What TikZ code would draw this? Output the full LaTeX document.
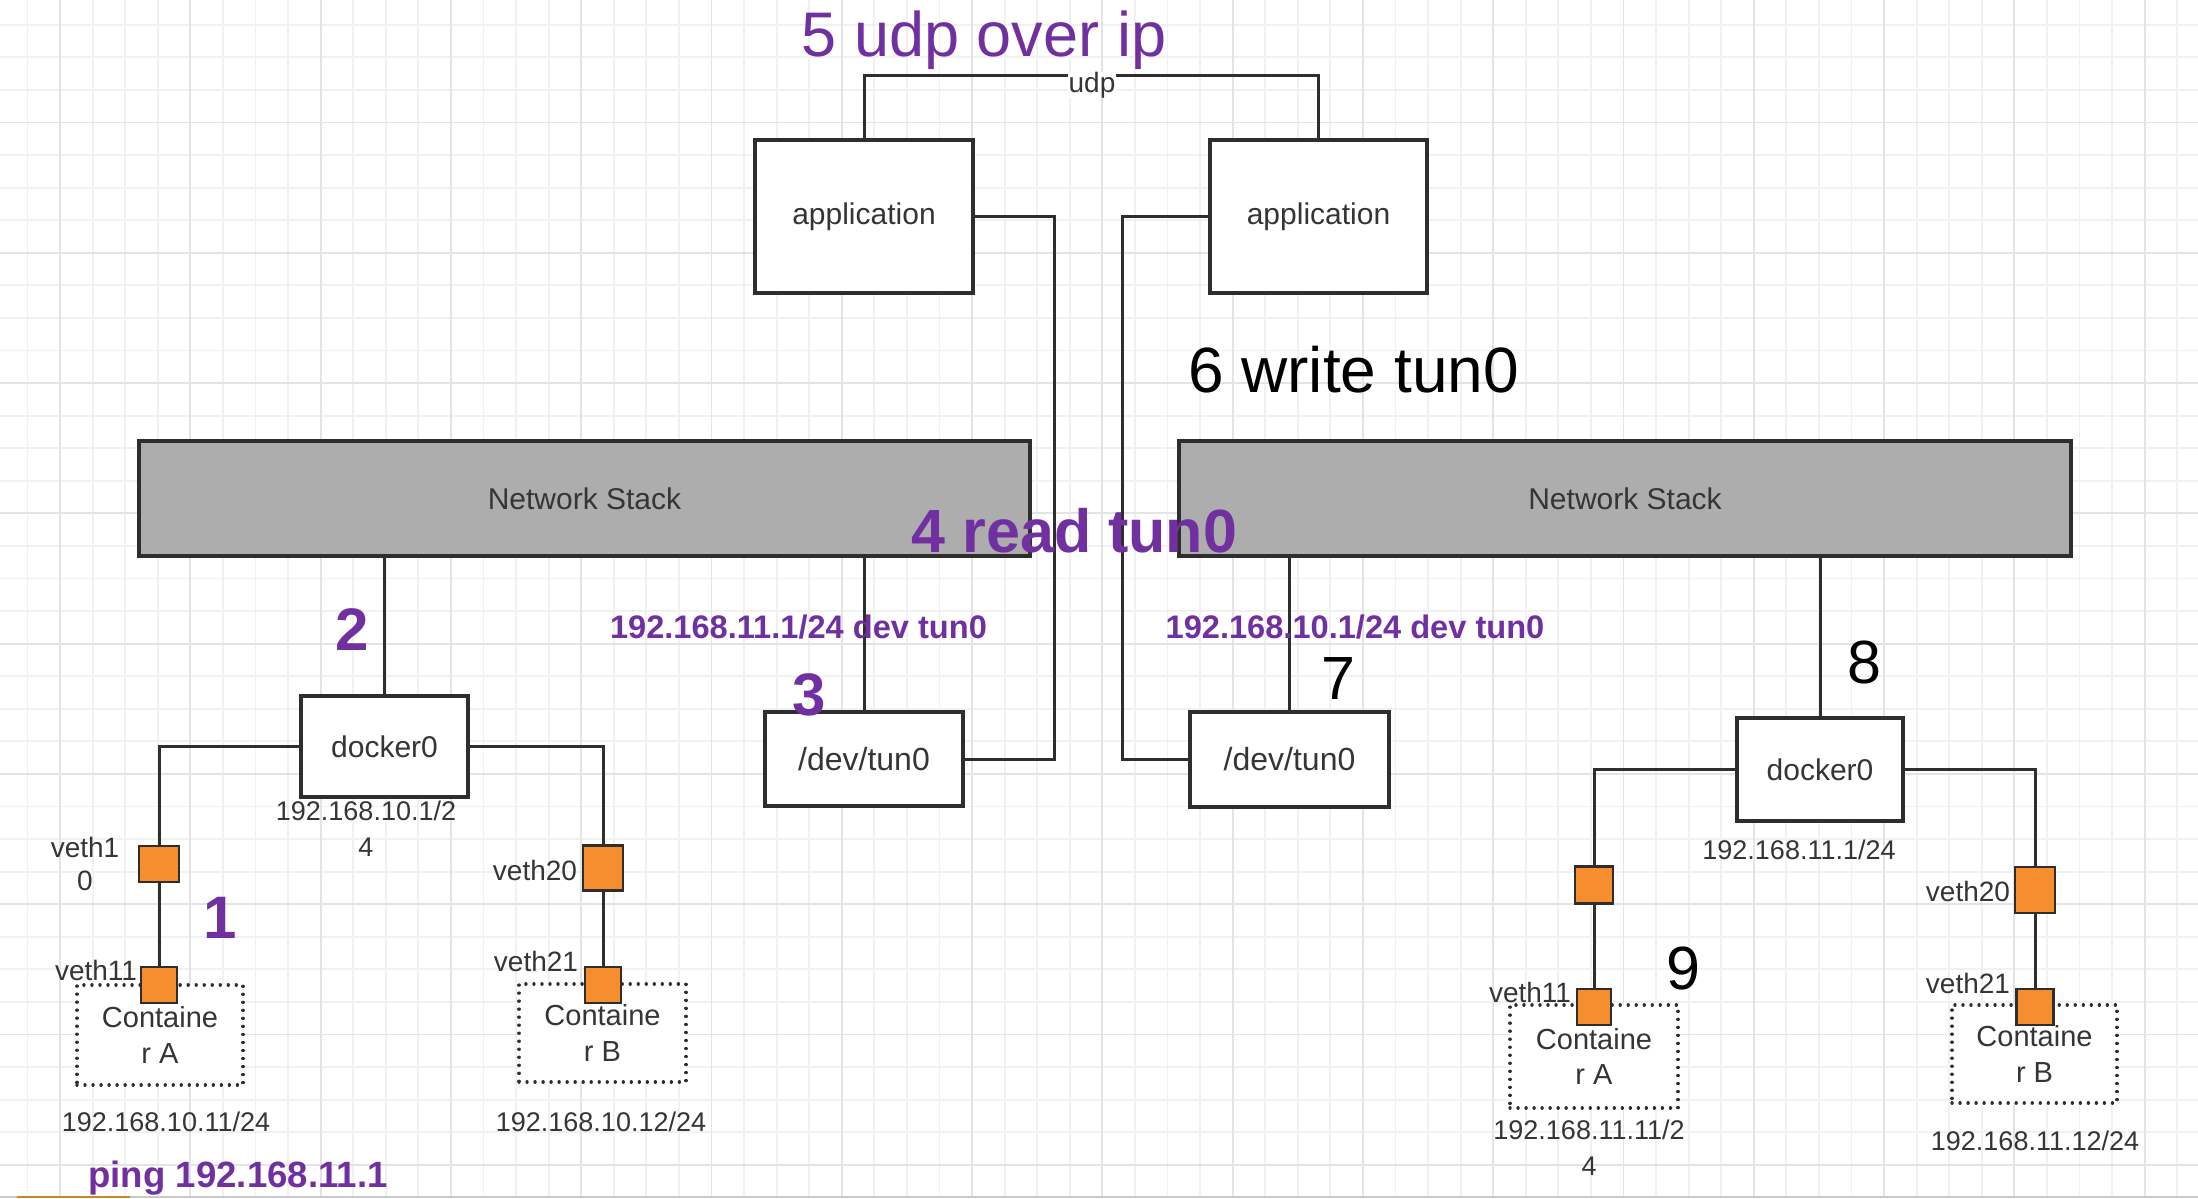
\documentclass[tikz,border=0pt]{standalone}
\usepackage{fontspec}
\setmainfont{Liberation Sans}
\definecolor{purp}{HTML}{7030A0}
\definecolor{txt}{HTML}{353535}
\definecolor{ln}{HTML}{2E2E2E}
\definecolor{orng}{HTML}{F68D2E}
\definecolor{stack}{HTML}{ADADAD}
\definecolor{gmin}{HTML}{F1F1F1}
\definecolor{gmaj}{HTML}{E4E4E4}
\definecolor{stripgrey}{HTML}{C9C9C9}
\definecolor{stripor}{HTML}{C8862A}
\begin{document}
\begin{tikzpicture}[x=0.5pt,y=-0.5pt,
  box/.style={draw=ln, line width=1.6pt, fill=white, rectangle, inner sep=0pt, text=txt, font=\fontsize{15}{18}\selectfont},
  stackbox/.style={box, fill=stack},
  port/.style={draw=ln, line width=1.4pt, fill=orng, rectangle, inner sep=0pt},
  cont/.style={draw=ln, line width=1.7pt, dash pattern=on 0.01pt off 4pt, line cap=round, fill=white, rectangle, inner sep=0pt, text=txt, align=center, font=\fontsize{14.5}{17.75}\selectfont},
  wire/.style={draw=ln, line width=1.5pt},
  lbl/.style={text=txt, inner sep=0pt, align=center, font=\fontsize{14}{16.5}\selectfont},
  ip/.style={text=txt, inner sep=0pt, align=center, font=\fontsize{13.5}{18}\selectfont},
  pnum/.style={text=purp, inner sep=0pt, anchor=base, font=\fontsize{30}{36}\selectfont\bfseries},
  knum/.style={text=black, inner sep=0pt, anchor=base, font=\fontsize{30.5}{36}\selectfont},
  route/.style={text=purp, inner sep=0pt, anchor=base, font=\fontsize{16.3}{20}\selectfont\bfseries},
  udplbl/.style={text=txt, fill=white, inner sep=0.2pt, font=\fontsize{14}{16}\selectfont}
]
\useasboundingbox (0,0) rectangle (2198,1198);
\clip (0,0) rectangle (2198,1198);
\fill[white] (0,0) rectangle (2198,1198);
% grid
\foreach \i in {-1,...,66} \draw[gmin, line width=0.9pt] ({60.1+32.57*\i},0) -- ({60.1+32.57*\i},1198);
\foreach \j in {-3,...,33} \draw[gmin, line width=0.9pt] (0,{122.5+32.57*\j}) -- (2198,{122.5+32.57*\j});
\foreach \i in {0,...,16} \draw[gmaj, line width=0.9pt] ({60.1+130.28*\i},0) -- ({60.1+130.28*\i},1198);
\foreach \j in {0,...,8} \draw[gmaj, line width=0.9pt] (0,{122.5+130.28*\j}) -- (2198,{122.5+130.28*\j});

% main boxes
\node[stackbox, minimum width=445.5pt, minimum height=57.5pt] (nsL) at (584.5,498.5) {Network Stack};
\node[stackbox, minimum width=446pt, minimum height=57.5pt] (nsR) at (1625,498.5) {Network Stack};
\node[box, minimum width=109pt, minimum height=76.5pt] (appL) at (864,216.5) {application};
\node[box, minimum width=108.5pt, minimum height=76.5pt] (appR) at (1318.5,216.5) {application};
\node[box, font=\fontsize{16}{19}\selectfont, minimum width=99pt, minimum height=47pt] (tunL) at (864,759) {/dev/tun0};
\node[box, font=\fontsize{16}{19}\selectfont, minimum width=99.5pt, minimum height=47.5pt] (tunR) at (1289.5,759.5) {/dev/tun0};
\node[box, minimum width=83.5pt, minimum height=50.5pt] (dockL) at (384.5,746.5) {docker0};
\node[box, minimum width=83pt, minimum height=51.5pt] (dockR) at (1820,769.5) {docker0};

% containers
\node[cont, minimum width=83pt, minimum height=50pt] (cA) at (160,1035) {Containe\\r A};
\node[cont, minimum width=83.5pt, minimum height=49pt] (cB) at (602.5,1033) {Containe\\r B};
\node[cont, minimum width=84pt, minimum height=51.5pt] (cRA) at (1594,1056.5) {Containe\\r A};
\node[cont, minimum width=82.5pt, minimum height=49pt] (cRB) at (2034.5,1054) {Containe\\r B};

% ports
\node[port, minimum width=20pt, minimum height=18pt] (vL10) at (159,864) {};
\node[port, minimum width=18pt, minimum height=18pt] (vL11) at (159,985) {};
\node[port, minimum width=20pt, minimum height=22.5pt] (vL20) at (603,868) {};
\node[port, minimum width=18pt, minimum height=18pt] (vL21) at (603,985) {};
\node[port, minimum width=19pt, minimum height=18.5pt] (vR10) at (1594,885) {};
\node[port, minimum width=17pt, minimum height=18pt] (vR11) at (1594,1007) {};
\node[port, minimum width=20pt, minimum height=23pt] (vR20) at (2035,890) {};
\node[port, minimum width=18.5pt, minimum height=18pt] (vR21) at (2035,1007) {};

% wires
\coordinate (uL) at (864,76);
\coordinate (uR) at (1318.5,76);
\draw[wire] (appL.north) -- (uL) -- (uR) -- (appR.north);
\node[udplbl] (udp) at (1092,85) {udp};
\draw[wire] (appL.east) -- ++(80,0) |- (tunL.east);
\draw[wire] (appR.west) -- ++(-85.5,0) |- (tunR.west);
\draw[wire] (nsL.south -| tunL.north) -- (tunL.north);
\draw[wire] (nsR.south -| tunR.north) -- (tunR.north);
\draw[wire] (nsL.south -| dockL.north) -- (dockL.north);
\draw[wire] (nsR.south -| dockR.north) -- (dockR.north);
\draw[wire] (dockL.west) -| (vL10.north);
\draw[wire] (dockL.east) -| (vL20.north);
\draw[wire] (vL10.south) -- (vL11.north);
\draw[wire] (vL20.south) -- (vL21.north);
\draw[wire] (dockR.west) -| (vR10.north);
\draw[wire] (dockR.east) -| (vR20.north);
\draw[wire] (vR10.south) -- (vR11.north);
\draw[wire] (vR20.south) -- (vR21.north);

% grey labels
\node[lbl] (lv10) at (85,864) {veth1\\0};
\node[lbl] (lv11) at (96,970) {veth11};
\node[lbl] (lv20) at (535,870) {veth20};
\node[lbl] (lv21) at (536,961) {veth21};
\node[ip] (ipdL) at (366,829) {192.168.10.1/2\\4};
\node[ip] (ipA) at (166,1122) {192.168.10.11/24};
\node[ip] (ipB) at (601,1122) {192.168.10.12/24};
\node[ip] (ipdR) at (1799,850) {192.168.11.1/24};
\node[lbl] (rv20) at (1968,891) {veth20};
\node[lbl] (rv11) at (1530,992) {veth11};
\node[lbl] (rv21) at (1968,983) {veth21};
\node[ip] (ipRA) at (1589,1148) {192.168.11.11/2\\4};
\node[ip] (ipRB) at (2035,1141) {192.168.11.12/24};

% step labels
\node[text=purp, inner sep=0pt, anchor=base, font=\fontsize{31.5}{36}\selectfont] (s5) at (984,57) {5 udp over ip};
\node[text=black, inner sep=0pt, anchor=base, font=\fontsize{32}{38}\selectfont] (s6) at (1353.5,392) {6 write tun0};
\node[route] (rtL) at (798.5,638) {192.168.11.1/24 dev tun0};
\node[route] (rtR) at (1355,638) {192.168.10.1/24 dev tun0};
\node[text=purp, inner sep=0pt, anchor=base, font=\fontsize{30.5}{36}\selectfont\bfseries] (s4) at (1074.5,552) {4 read tun0};
\node[pnum] (n1) at (220,938) {1};
\node[pnum] (n2) at (352.5,650) {2};
\node[pnum] (n3) at (809,715) {3};
\node[knum] (n7) at (1338,699) {7};
\node[knum] (n8) at (1864,683) {8};
\node[knum] (n9) at (1683,989) {9};
\node[text=purp, inner sep=0pt, anchor=base, font=\fontsize{18.3}{22}\selectfont\bfseries] (ping) at (238,1187) {ping 192.168.11.1};

% bottom strip
\fill[stripgrey] (0,1195.5) rectangle (2198,1198);
\fill[stripor] (17,1195.5) rectangle (130,1198);
\end{tikzpicture}
\end{document}
